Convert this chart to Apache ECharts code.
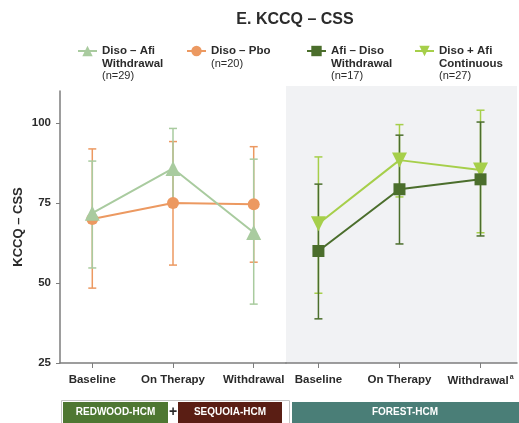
<!DOCTYPE html>
<html>
<head>
<meta charset="utf-8">
<script src="https://cdn.jsdelivr.net/npm/echarts@6/dist/echarts.min.js"></script>
<style>
  html, body { margin: 0; padding: 0; background: #fff; }
  #box { width: 519px; height: 423px; }
</style>
</head>
<body>
<div id="box"></div>
<script>
var chart = echarts.init(document.getElementById('box'));

var categories = ['Baseline', 'On Therapy', 'Withdrawal'];
var yTicks = [25, 50, 75, 100];

// left panel: REDWOOD-HCM + SEQUOIA-HCM
var afiWdMean = [71.8, 85.8, 65.8];
var afiWdLow = [54.7, 73.8, 43.4];
var afiWdHigh = [88.1, 98.3, 88.7];

var pboMean = [70.0, 75.0, 74.6];
var pboLow = [48.4, 55.6, 56.5];
var pboHigh = [91.9, 94.2, 92.6];

// right panel: FOREST-HCM
var afiDisoMean = [60.0, 79.3, 82.4];
var afiDisoLow = [38.8, 62.2, 64.7];
var afiDisoHigh = [80.9, 96.2, 100.3];

var contMean = [68.5, 88.4, 85.3];
var contLow = [46.8, 76.9, 65.7];
var contHigh = [89.4, 99.5, 104.0];

var names = ['Diso – Afi Withdrawal', 'Diso – Pbo', 'Afi – Diso Withdrawal', 'Diso + Afi Continuous'];
var legendText = {
  'Diso – Afi Withdrawal': '{b|Diso – Afi}\n{b|Withdrawal}\n{n|(n=29)}',
  'Diso – Pbo': '{b|Diso – Pbo}\n{n|(n=20)}',
  'Afi – Diso Withdrawal': '{b|Afi – Diso}\n{b|Withdrawal}\n{n|(n=17)}',
  'Diso + Afi Continuous': '{b|Diso + Afi}\n{b|Continuous}\n{n|(n=27)}'
};
var colors = ['#a9cb9f', '#ec9961', '#4b6e2c', '#a6cf4a'];

function pts(mean) {
  return mean.map(function (v, i) { return [i, v]; });
}
function bars(low, high) {
  return low.map(function (v, i) { return [i, v, high[i]]; });
}
function errRender(color) {
  return function (params, api) {
    var x = api.value(0);
    var lo = api.coord([x, api.value(1)]);
    var hi = api.coord([x, api.value(2)]);
    var w = 4;
    var st = { stroke: color, lineWidth: 1.5 };
    return {
      type: 'group',
      children: [
        { type: 'line', shape: { x1: lo[0], y1: lo[1], x2: hi[0], y2: hi[1] }, style: st },
        { type: 'line', shape: { x1: lo[0] - w, y1: lo[1], x2: lo[0] + w, y2: lo[1] }, style: st },
        { type: 'line', shape: { x1: hi[0] - w, y1: hi[1], x2: hi[0] + w, y2: hi[1] }, style: st }
      ]
    };
  };
}

var lh = 12.5;
function legendAt(name, left, lines) {
  return {
    data: [name],
    left: left,
    top: 45,
    padding: 0,
    itemWidth: 19,
    itemHeight: 13,
    formatter: function (n) { return legendText[n]; },
    textStyle: {
      padding: [(lines - 1) * lh, 0, 0, 0],
      rich: {
        b: { fontFamily: 'Liberation Sans', fontWeight: 'bold', fontSize: 11.5, color: '#2b2b2b', lineHeight: lh },
        n: { fontFamily: 'Liberation Sans', fontSize: 11, color: '#2b2b2b', lineHeight: lh }
      }
    }
  };
}

var axisColor = '#7d7d7d';
var labelStyle = { fontFamily: 'Liberation Sans', fontWeight: 'bold', fontSize: 11.5, color: '#2b2b2b' };

option = {
  animation: false,
  color: colors,
  title: {
    text: 'E. KCCQ – CSS',
    left: 290,
    top: 7,
    textAlign: 'center',
    textStyle: { fontFamily: 'Liberation Sans', fontWeight: 'bold', fontSize: 16, color: '#2b2b2b' }
  },
  legend: [
    legendAt(names[0], 77, 3),
    legendAt(names[1], 186, 2),
    legendAt(names[2], 306, 3),
    legendAt(names[3], 414, 3)
  ],
  grid: [
    { left: 60, top: 91, width: 226, bottom: 60 },
    { left: 286, top: 86, right: 2, bottom: 60, show: true, backgroundColor: '#f1f2f4', borderWidth: 0 }
  ],
  xAxis: [
    {
      gridIndex: 0, type: 'value', min: -0.4, max: 2.4,
      splitLine: { show: false },
      axisLine: { onZero: false, lineStyle: { color: axisColor, width: 1.5 } },
      axisTick: { customValues: [0, 1, 2], length: 5, lineStyle: { color: axisColor } },
      axisLabel: Object.assign({ customValues: [0, 1, 2], margin: 11,
        formatter: function (v) { return categories[Math.round(v)]; } }, labelStyle)
    },
    {
      gridIndex: 1, type: 'value', min: -0.4, max: 2.45,
      splitLine: { show: false },
      axisLine: { onZero: false, lineStyle: { color: axisColor, width: 1.5 } },
      axisTick: { customValues: [0, 1, 2], length: 5, lineStyle: { color: axisColor } },
      axisLabel: Object.assign({ customValues: [0, 1, 2], margin: 11,
        formatter: function (v) {
          var i = Math.round(v);
          return i === 2 ? '{c|' + categories[i] + '}{s|a}' : '{c|' + categories[i] + '}';
        },
        rich: {
          c: labelStyle,
          s: { fontFamily: 'Liberation Sans', fontWeight: 'bold', fontSize: 7, color: '#2b2b2b', padding: [0, 0, 6, 1] }
        } }, labelStyle)
    }
  ],
  yAxis: [
    {
      gridIndex: 0, type: 'value', min: 25, max: 110,
      name: 'KCCQ – CSS', nameLocation: 'middle', nameGap: 35,
      nameTextStyle: { fontFamily: 'Liberation Sans', fontWeight: 'bold', fontSize: 13, color: '#2b2b2b' },
      splitLine: { show: false },
      axisLine: { show: true, onZero: false, lineStyle: { color: axisColor, width: 1.5 } },
      axisTick: { show: true, customValues: yTicks, length: 4, lineStyle: { color: axisColor } },
      axisLabel: Object.assign({ customValues: yTicks, margin: 9 }, labelStyle)
    },
    {
      gridIndex: 1, type: 'value', min: 25, max: 111.5625, show: false
    }
  ],
  series: [
    { type: 'custom', xAxisIndex: 0, yAxisIndex: 0, renderItem: errRender(colors[1]),
      encode: { x: 0, y: [1, 2] }, data: bars(pboLow, pboHigh), z: 1, silent: true },
    { type: 'custom', xAxisIndex: 0, yAxisIndex: 0, renderItem: errRender(colors[0]),
      encode: { x: 0, y: [1, 2] }, data: bars(afiWdLow, afiWdHigh), z: 1, silent: true },
    { type: 'custom', xAxisIndex: 1, yAxisIndex: 1, renderItem: errRender(colors[3]),
      encode: { x: 0, y: [1, 2] }, data: bars(contLow, contHigh), z: 1, silent: true },
    { type: 'custom', xAxisIndex: 1, yAxisIndex: 1, renderItem: errRender(colors[2]),
      encode: { x: 0, y: [1, 2] }, data: bars(afiDisoLow, afiDisoHigh), z: 1, silent: true },
    { name: names[1], type: 'line', xAxisIndex: 0, yAxisIndex: 0, data: pts(pboMean),
      symbol: 'circle', symbolSize: 12, lineStyle: { width: 2 }, itemStyle: { color: colors[1] }, z: 3 },
    { name: names[0], type: 'line', xAxisIndex: 0, yAxisIndex: 0, data: pts(afiWdMean),
      symbol: 'triangle', symbolSize: 15, lineStyle: { width: 2 }, itemStyle: { color: colors[0] }, z: 4 },
    { name: names[3], type: 'line', xAxisIndex: 1, yAxisIndex: 1, data: pts(contMean),
      symbol: 'triangle', symbolRotate: 180, symbolSize: 15, lineStyle: { width: 2 }, itemStyle: { color: colors[3] }, z: 3 },
    { name: names[2], type: 'line', xAxisIndex: 1, yAxisIndex: 1, data: pts(afiDisoMean),
      symbol: 'rect', symbolSize: 12, lineStyle: { width: 2 }, itemStyle: { color: colors[2] }, z: 4 }
  ],
  graphic: [
    { type: 'rect', left: 59, top: 398, shape: { width: 228, height: 30 },
      style: { fill: 'none', stroke: '#c4c4c4', lineWidth: 1 } },
    { type: 'rect', left: 63, top: 402, shape: { width: 105, height: 22 }, style: { fill: '#4e7732' } },
    { type: 'text', x: 173, y: 412, style: { text: '+', font: 'bold 14px "Liberation Sans"', fill: '#2b2b2b', align: 'center', verticalAlign: 'middle' } },
    { type: 'rect', left: 178, top: 402, shape: { width: 104, height: 22 }, style: { fill: '#5a1e14' } },
    { type: 'rect', left: 292, top: 402, shape: { width: 227, height: 22 }, style: { fill: '#4a7e77' } },
    { type: 'text', x: 115.5, y: 412, style: { text: 'REDWOOD-HCM', font: 'bold 10px "Liberation Sans"', fill: '#fff', align: 'center', verticalAlign: 'middle' } },
    { type: 'text', x: 230, y: 412, style: { text: 'SEQUOIA-HCM', font: 'bold 10px "Liberation Sans"', fill: '#fff', align: 'center', verticalAlign: 'middle' } },
    { type: 'text', x: 405, y: 412, style: { text: 'FOREST-HCM', font: 'bold 10px "Liberation Sans"', fill: '#fff', align: 'center', verticalAlign: 'middle' } }
  ]
};

chart.setOption(option);
</script>
</body>
</html>
